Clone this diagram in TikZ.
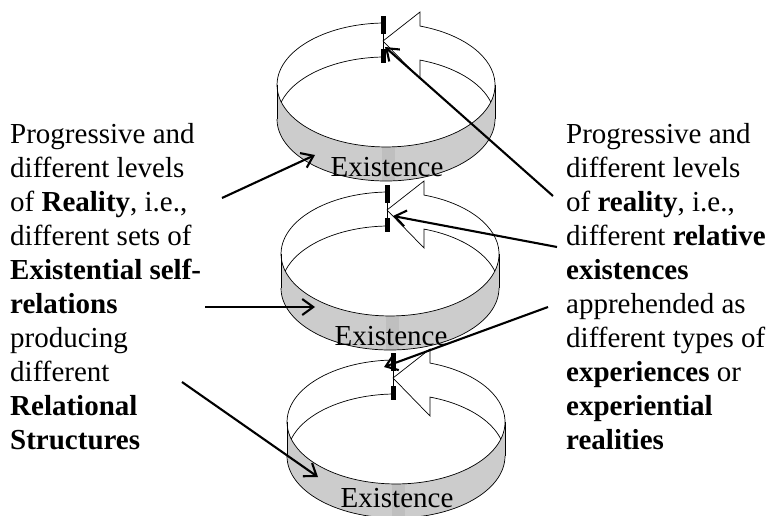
\documentclass[tikz,border=0pt]{standalone}
\usepackage{fontspec}
\setmainfont{Liberation Serif}
\usetikzlibrary{arrows.meta}

\begin{document}
\begin{tikzpicture}[x=1pt,y=-1pt,
    band/.style={fill=black!20},
    seam/.style={fill=black!25},
    rim/.style={line width=0.7pt},
    txt/.style={align=left,inner sep=0pt,anchor=north west,
        font=\fontsize{29}{34}\selectfont},
    lbl/.style={inner sep=0pt,anchor=base,font=\fontsize{29}{34}\selectfont},
    pointer/.style={line width=2.1pt,
        -{Straight Barb[length=11pt,width=16pt,line width=2.1pt]}}
]
    \useasboundingbox (0,0) rectangle (770,516);

    % rings: top-ellipse centre and baseline of the label
    \foreach \cx/\cy/\ty [count=\i] in {386/85/91,390/254/91,396/422/85}{
    \begin{scope}[shift={(\cx,\cy)}]
        \fill[band] (-109,0) -- (-109,34)
            arc[start angle=180,end angle=0,x radius=109,y radius=62]
            -- (109,0)
            arc[start angle=0,end angle=180,x radius=109,y radius=62] -- cycle;
        \fill[seam] (-4,62) rectangle (9,96);
        % upper rim with the arrow head
        \draw[rim] (-3,-62)
            arc[start angle=268.4,end angle=-71.8,x radius=109,y radius=62]
            -- (34,-73) -- (-3,-44) -- (34,-6) -- (34,-24.9)
            arc[start angle=288.2,end angle=344.1,x radius=109,y radius=62];
        % lower rim
        \draw[rim] (-3,-28)
            arc[start angle=268.4,end angle=195.9,x radius=109,y radius=62];
        \draw[rim] (-109,34)
            arc[start angle=180,end angle=0,x radius=109,y radius=62];
        \draw[rim] (-109,0) -- (-109,34) (109,0) -- (109,34);
        % tail of the ribbon
        \draw[rim] (-3,-62) -- (-3,-28);
        \fill (-5.5,-69) rectangle (-0.5,-51);
        \fill (-5.5,-36) rectangle (-0.5,-22);
        \node[lbl] (ex\i) at (1,\ty) {Existence};
    \end{scope}
    }

    \node[txt] (leftnote) at (10,123) {Progressive and\\
        different levels\\
        of \textbf{Reality}, i.e.,\\
        different sets of\\
        \textbf{Existential self-}\\
        \textbf{relations}\\
        producing\\
        different\\
        \textbf{Relational}\\
        \textbf{Structures}};
    \node[txt] (rightnote) at (566,123) {Progressive and\\
        different levels\\
        of \textbf{reality}, i.e.,\\
        different \textbf{relative}\\
        \textbf{existences}\\
        apprehended as\\
        different types of\\
        \textbf{experiences} or\\
        \textbf{experiential}\\
        \textbf{realities}};

    % ends of the pointers
    \coordinate (la) at (222,198);
    \coordinate (lb) at (205,307);
    \coordinate (lc) at (182,382);
    \coordinate (ra) at (553,196);
    \coordinate (rb) at (557,247);
    \coordinate (rc) at (548,307);
    \coordinate (ta) at (315,155);
    \coordinate (tb) at (315,307);
    \coordinate (tc) at (318,477);
    \coordinate (sa) at (385,47);
    \coordinate (sb) at (393,216);
    \coordinate (sc) at (384,367);

    \foreach \x/\y in {la/ta,lb/tb,lc/tc,ra/sa,rb/sb,rc/sc}
        \draw[pointer] (\x)--(\y);
\end{tikzpicture}
\end{document}
